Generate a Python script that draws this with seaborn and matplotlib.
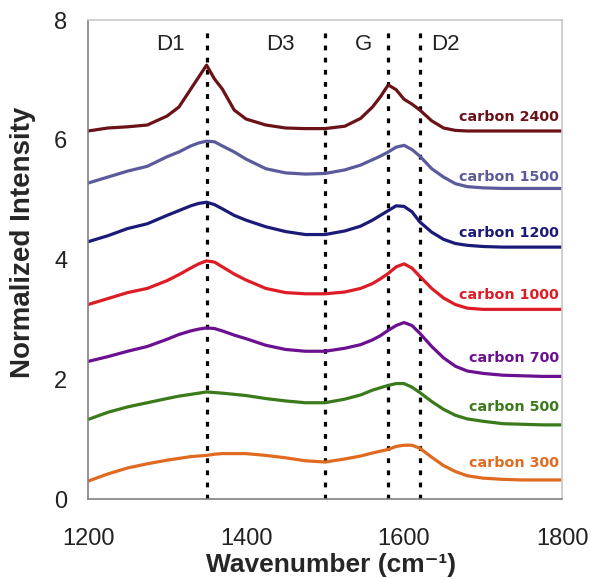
import numpy as np
import pandas as pd
import matplotlib
matplotlib.use("Agg")
import matplotlib.pyplot as plt
import seaborn as sns

wavenumber = [1200, 1225, 1250, 1275, 1300, 1315, 1330, 1340, 1350, 1360, 1370, 1385,
              1400, 1425, 1450, 1475, 1500, 1525, 1545, 1560, 1570, 1580, 1590, 1600,
              1610, 1620, 1635, 1650, 1665, 1680, 1700, 1725, 1750, 1775, 1800]

carbon_2400 = [6.15, 6.20, 6.22, 6.25, 6.40, 6.55, 6.85, 7.05, 7.25, 7.02, 6.85, 6.50,
               6.35, 6.25, 6.20, 6.19, 6.19, 6.23, 6.36, 6.55, 6.72, 6.92, 6.84, 6.68,
               6.60, 6.50, 6.32, 6.20, 6.16, 6.15, 6.15, 6.15, 6.15, 6.15, 6.15]
carbon_1500 = [5.28, 5.38, 5.48, 5.56, 5.72, 5.80, 5.90, 5.95, 5.98, 5.97, 5.90, 5.80,
               5.68, 5.52, 5.45, 5.43, 5.44, 5.50, 5.58, 5.67, 5.73, 5.80, 5.88, 5.91,
               5.84, 5.73, 5.52, 5.38, 5.27, 5.22, 5.20, 5.19, 5.19, 5.19, 5.19]
carbon_1200 = [4.30, 4.40, 4.52, 4.60, 4.74, 4.82, 4.90, 4.94, 4.96, 4.92, 4.85, 4.74,
               4.66, 4.55, 4.47, 4.42, 4.42, 4.48, 4.56, 4.66, 4.74, 4.82, 4.90, 4.89,
               4.80, 4.63, 4.46, 4.34, 4.27, 4.24, 4.22, 4.21, 4.21, 4.21, 4.21]
carbon_1000 = [3.25, 3.35, 3.45, 3.52, 3.65, 3.75, 3.86, 3.93, 3.98, 3.96, 3.88, 3.76,
               3.66, 3.52, 3.45, 3.43, 3.43, 3.46, 3.52, 3.60, 3.68, 3.77, 3.88, 3.93,
               3.86, 3.72, 3.52, 3.36, 3.25, 3.19, 3.17, 3.17, 3.17, 3.17, 3.17]
carbon_700 = [2.30, 2.38, 2.47, 2.55, 2.67, 2.75, 2.81, 2.84, 2.86, 2.85, 2.81, 2.74,
              2.68, 2.57, 2.50, 2.47, 2.47, 2.52, 2.58, 2.66, 2.73, 2.82, 2.90, 2.95,
              2.90, 2.77, 2.55, 2.36, 2.22, 2.14, 2.10, 2.07, 2.06, 2.05, 2.05]
carbon_500 = [1.33, 1.45, 1.54, 1.61, 1.68, 1.72, 1.75, 1.77, 1.79, 1.78, 1.77, 1.75,
              1.73, 1.68, 1.64, 1.61, 1.61, 1.67, 1.74, 1.82, 1.86, 1.90, 1.93, 1.93,
              1.87, 1.78, 1.63, 1.50, 1.40, 1.34, 1.30, 1.26, 1.25, 1.24, 1.24]
carbon_300 = [0.30, 0.42, 0.52, 0.59, 0.65, 0.68, 0.71, 0.72, 0.73, 0.75, 0.76, 0.76,
              0.76, 0.73, 0.69, 0.64, 0.62, 0.67, 0.72, 0.77, 0.80, 0.83, 0.88, 0.90,
              0.90, 0.85, 0.70, 0.56, 0.46, 0.39, 0.35, 0.33, 0.32, 0.32, 0.32]

series_names = ["carbon 2400", "carbon 1500", "carbon 1200", "carbon 1000",
                "carbon 700", "carbon 500", "carbon 300"]
series_values = [carbon_2400, carbon_1500, carbon_1200, carbon_1000,
                 carbon_700, carbon_500, carbon_300]
series_colors = ["#6B1218", "#5B5B9B", "#1C1A78", "#DD1C26",
                 "#6B1090", "#3A7A1A", "#E06A20"]
label_y = [6.39, 5.38, 4.44, 3.41, 2.36, 1.54, 0.60]

band_names = ["D1", "D3", "G", "D2"]
band_positions = [1350, 1500, 1580, 1620]
band_label_x = [1304, 1444, 1549, 1652]

x_ticks = [1200, 1400, 1600, 1800]
y_ticks = [0, 2, 4, 6, 8]

rows = []
for name, vals in zip(series_names, series_values):
    for w, v in zip(wavenumber, vals):
        rows.append({"Wavenumber": w, "Intensity": v, "Sample": name})
df = pd.DataFrame(rows)

sns.set_style("white")
plt.rcParams["font.family"] = ["Liberation Sans", "DejaVu Sans"]

fig = plt.figure(figsize=(5.91, 5.79), dpi=100)
ax = fig.add_axes([0.149, 0.138, 0.802, 0.827])

sns.lineplot(data=df, x="Wavenumber", y="Intensity", hue="Sample",
             hue_order=series_names, palette=series_colors, linewidth=2.3,
             legend=False, ax=ax)

ax.vlines(band_positions, 0, 7.8, colors="black", linewidth=2.3,
          linestyles=[(0, (1.5, 2.3))], zorder=1)

for name, x in zip(band_names, band_label_x):
    ax.text(x, 7.6, name, ha="center", va="center", fontsize=16, color="#222222")

for name, y, c in zip(series_names, label_y, series_colors):
    ax.text(1796, y, name, ha="right", va="center", fontsize=10.3,
            fontweight="bold", color=c, family="DejaVu Sans")

ax.set_xlim(1200, 1800)
ax.set_ylim(0, 8)
ax.set_xticks(x_ticks)
ax.set_yticks(y_ticks)
ax.tick_params(axis="x", direction="out", length=5, width=1, color="#808080",
               labelsize=17, pad=16, labelcolor="#222222")
ax.tick_params(axis="y", direction="out", length=5, width=1, color="#808080",
               labelsize=17, pad=10, labelcolor="#222222")
ax.set_xlabel("Wavenumber (cm\u207b\u00b9)", fontsize=19, fontweight="bold")
ax.set_ylabel("Normalized Intensity", fontsize=20, fontweight="bold")
ax.xaxis.label.set_va("center")
ax.yaxis.label.set_va("center")
ax.xaxis.set_label_coords(0.513, -0.137)
ax.yaxis.set_label_coords(-0.137, 0.537)

for side in ["left", "bottom"]:
    ax.spines[side].set_color("#808080")
    ax.spines[side].set_linewidth(1.2)
for side in ["top", "right"]:
    ax.spines[side].set_color("#C8C8C8")
    ax.spines[side].set_linewidth(1.2)

fig.savefig("out.png", dpi=100)
